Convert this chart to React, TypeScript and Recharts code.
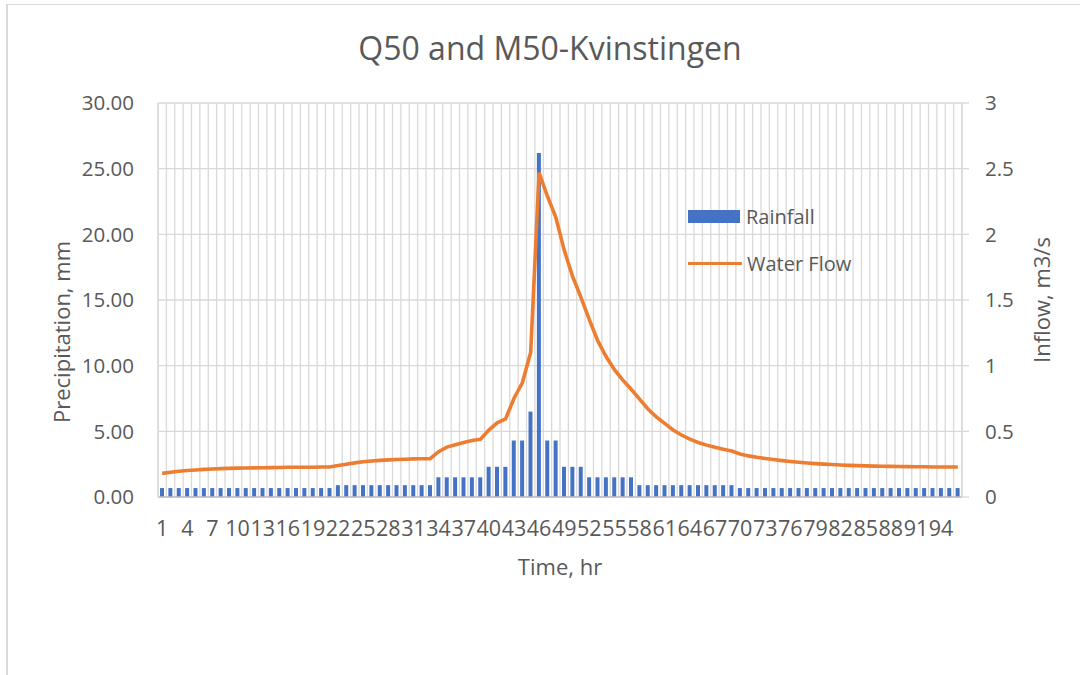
import React from "react";
import { ComposedChart, Bar, Line, XAxis, YAxis, CartesianGrid, Legend } from "recharts";

const hours = [
  1, 2, 3, 4, 5, 6, 7, 8, 9, 10, 11, 12, 13, 14, 15, 16, 17, 18, 19, 20,
  21, 22, 23, 24, 25, 26, 27, 28, 29, 30, 31, 32, 33, 34, 35, 36, 37, 38, 39, 40,
  41, 42, 43, 44, 45, 46, 47, 48, 49, 50, 51, 52, 53, 54, 55, 56, 57, 58, 59, 60,
  61, 62, 63, 64, 65, 66, 67, 68, 69, 70, 71, 72, 73, 74, 75, 76, 77, 78, 79, 80,
  81, 82, 83, 84, 85, 86, 87, 88, 89, 90, 91, 92, 93, 94, 95, 96,
];

// precipitation, mm
const rainfall = [
  0.68, 0.68, 0.68, 0.68, 0.68, 0.68, 0.68, 0.68, 0.68, 0.68, 0.68, 0.68, 0.68, 0.68, 0.68, 0.68, 0.68, 0.68, 0.68, 0.68,
  0.68, 0.9, 0.9, 0.9, 0.9, 0.9, 0.9, 0.9, 0.9, 0.9, 0.9, 0.9, 0.9, 1.5, 1.5, 1.5, 1.5, 1.5, 1.5, 2.3,
  2.3, 2.3, 4.3, 4.3, 6.5, 26.2, 4.3, 4.3, 2.3, 2.3, 2.3, 1.5, 1.5, 1.5, 1.5, 1.5, 1.5, 0.9, 0.9, 0.9,
  0.9, 0.9, 0.9, 0.9, 0.9, 0.9, 0.9, 0.9, 0.9, 0.68, 0.68, 0.68, 0.68, 0.68, 0.68, 0.68, 0.68, 0.68, 0.68, 0.68,
  0.68, 0.68, 0.68, 0.68, 0.68, 0.68, 0.68, 0.68, 0.68, 0.68, 0.68, 0.68, 0.68, 0.68, 0.68, 0.68,
];

// inflow, m3/s
const waterFlow = [
  0.18, 0.188, 0.196, 0.202, 0.206, 0.21, 0.213, 0.216, 0.218, 0.22, 0.221, 0.222, 0.223, 0.224, 0.225, 0.226, 0.226, 0.227, 0.227, 0.228,
  0.228, 0.24, 0.25, 0.26, 0.268, 0.274, 0.279, 0.283, 0.286, 0.288, 0.29, 0.291, 0.292, 0.345, 0.38, 0.398, 0.415, 0.43, 0.44, 0.51,
  0.565, 0.595, 0.75, 0.87, 1.1, 2.47, 2.29, 2.13, 1.88, 1.68, 1.52, 1.35, 1.19, 1.07, 0.97, 0.89, 0.82, 0.745, 0.67, 0.61,
  0.56, 0.51, 0.472, 0.44, 0.415, 0.395, 0.378, 0.363, 0.35, 0.327, 0.313, 0.302, 0.293, 0.285, 0.277, 0.27, 0.264, 0.259, 0.254, 0.25,
  0.247, 0.244, 0.241, 0.239, 0.237, 0.235, 0.234, 0.233, 0.232, 0.231, 0.23, 0.23, 0.229, 0.229, 0.228, 0.228,
];

const leftTicks = [0, 5, 10, 15, 20, 25, 30];
const rightTicks = [0, 0.5, 1, 1.5, 2, 2.5, 3];

const data = hours.map((h, i) => ({ hour: h, rain: rainfall[i], flow: waterFlow[i] }));

const FONT = "'Open Sans', sans-serif";
const TEXT = "#595959";
const GRID = "#d9d9d9";

const renderLegend = () => (
  <div style={{ fontFamily: FONT, fontSize: 20, color: TEXT, lineHeight: "27px" }}>
    <div style={{ display: "flex", alignItems: "center", height: 27 }}>
      <span style={{ display: "inline-block", width: 52, height: 13, background: "#4472C4", marginRight: 6 }} />
      Rainfall
    </div>
    <div style={{ display: "flex", alignItems: "center", height: 27, marginTop: 20 }}>
      <span style={{ display: "inline-block", width: 54, height: 3.5, background: "#ED7D31", marginRight: 5 }} />
      Water Flow
    </div>
  </div>
);

export default function App() {
  return (
    <div style={{ position: "fixed", left: 0, top: 0, width: 1080, height: 675, background: "#fff", overflow: "hidden" }}>
      <div
        style={{
          position: "absolute",
          left: 6,
          top: 4,
          width: 1090,
          height: 690,
          borderLeft: "2px solid #d9d9d9",
          borderTop: "1px solid #d9d9d9",
        }}
      />
      <div
        style={{
          position: "absolute",
          left: 0,
          width: 1100,
          top: 28,
          textAlign: "center",
          fontFamily: FONT,
          fontSize: 32,
          color: TEXT,
          lineHeight: "40px",
        }}
      >
        Q50 and M50-Kvinstingen
      </div>
      <div style={{ position: "absolute", left: 0, top: 0 }}>
        <ComposedChart
          width={1080}
          height={675}
          data={data}
          margin={{ top: 103, right: 18, bottom: 98, left: 78 }}
          style={{ fontFamily: FONT }}
        >
          <CartesianGrid
            yAxisId="left"
            stroke={GRID}
            strokeWidth={1.3}
            verticalCoordinatesGenerator={({ offset }: any) =>
              [0, ...hours].map((_, i) => offset.left + (i * offset.width) / hours.length)
            }
          />
          <XAxis
            dataKey="hour"
            interval={2}
            tickLine={false}
            tickSize={0}
            tickMargin={24}
            axisLine={{ stroke: "#bfbfbf", strokeWidth: 1.3 }}
            tick={{ fill: TEXT, fontSize: 21.5 }}
            height={80}
            label={{ value: "Time, hr", position: "center", dy: 30, fill: TEXT, fontSize: 22 }}
          />
          <YAxis
            yAxisId="left"
            domain={[0, 30]}
            ticks={leftTicks}
            tickFormatter={(v: number) => v.toFixed(2)}
            width={80}
            tickLine={false}
            tickSize={0}
            tickMargin={24}
            axisLine={{ stroke: GRID, strokeWidth: 1.3 }}
            tick={{ fill: TEXT, fontSize: 20.5 }}
            label={{ value: "Precipitation, mm", angle: -90, position: "center", dx: -56, dy: 32, fill: TEXT, fontSize: 22 }}
          />
          <YAxis
            yAxisId="right"
            orientation="right"
            domain={[0, 3]}
            ticks={rightTicks}
            width={100}
            tickSize={7}
            tickMargin={16}
            tickLine={{ stroke: GRID, strokeWidth: 1.3 }}
            axisLine={{ stroke: GRID, strokeWidth: 1.3 }}
            tick={{ fill: TEXT, fontSize: 20.5 }}
            label={{ value: "Inflow, m3/s", angle: -90, position: "center", dx: 30, fill: TEXT, fontSize: 22 }}
          />
          <Legend
            layout="horizontal"
            verticalAlign="middle"
            align="center"
            content={renderLegend}
            wrapperStyle={{ left: 688, top: 203, width: 220 }}
          />
          <Bar yAxisId="left" dataKey="rain" name="Rainfall" fill="#4472C4" barSize={4} isAnimationActive={false} />
          <Line
            yAxisId="right"
            dataKey="flow"
            name="Water Flow"
            type="linear"
            stroke="#ED7D31"
            strokeWidth={3.6}
            dot={false}
            activeDot={false}
            isAnimationActive={false}
          />
        </ComposedChart>
      </div>
    </div>
  );
}
